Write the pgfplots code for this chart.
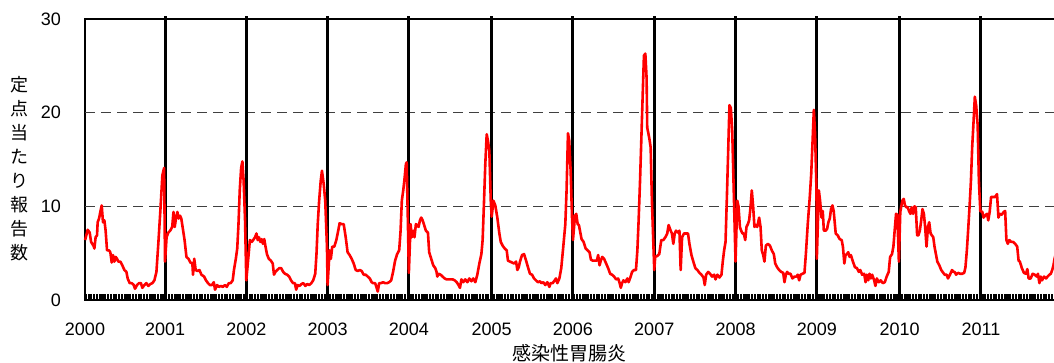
\documentclass[border=0pt]{standalone}
\usepackage{fontspec}
\setmainfont{Liberation Sans}
\newfontfamily\jp{Noto Sans CJK JP}
\usepackage{pgfplots}
\pgfplotsset{compat=1.18}
\begin{document}
\begin{tikzpicture}
\useasboundingbox (-42.5pt,-31.5pt) rectangle (484.5pt,150pt);
\begin{axis}[
  at={(0,0)}, anchor=south west,
  scale only axis, width=488.6pt, height=140.5pt,
  xmin=0.8, xmax=626, ymin=0, ymax=30,
  clip=false,
  axis line style={line width=0.8pt, black},
  xtick={0.8,52,104,156,208,261,313,365,417,469,522,574},
  xticklabels={2000,2001,2002,2003,2004,2005,2006,2007,2008,2009,2010,2011},
  minor xtick={1,2,...,625},
  ytick={0,10,20,30},
  extra y ticks={10,20}, extra y tick labels={},
  extra y tick style={ymajorgrids=true, major grid style={dash pattern=on 5pt off 3pt, line width=0.5pt, black!75}},
  tick pos=left, tick align=inside,
  major tick length=0pt,
  minor tick length=3pt,
  every minor tick/.style={line width=0.6pt, black},
  tick label style={font=\fontsize{9}{10}\selectfont},
  yticklabel style={anchor=east, xshift=-8.5pt},
  xticklabel style={anchor=north, yshift=-8pt},
  /pgf/number format/assume math mode=true,
]
\pgfplotsinvokeforeach{52,104,156,208,261,313,365,417,469,522,574}{
  \draw[line width=1.5pt, black] (axis cs:#1,0) -- (axis cs:#1,30.35);
}
\addplot[red, line width=1.3pt, line join=round, no marks] coordinates {
(0.9,6.4) (2.5,7.5) (3.8,7.2) (4.7,6.2) (6.2,5.8) (6.8,5.5) (7.6,6.7) (8.5,6.9) (8.9,8.3) (9.8,8.7) (10.6,9.4) (11.5,10.1) (12.3,8.3) (13.2,8.5) (14.0,7.4) (14.9,5.3) (16.2,5.3) (17.0,5.1) (17.9,4.0) (18.7,4.8) (19.6,4.1) (20.4,4.6) (21.3,4.4) (22.1,4.1) (23.4,4.1) (24.7,3.7) (26.0,3.2) (27.3,3.0) (28.1,2.3) (29.4,1.8) (30.7,1.8) (32.0,1.6) (32.8,1.2) (34.1,1.6) (35.4,1.8) (36.6,1.8) (37.5,1.3) (38.8,1.6) (40.1,1.8) (41.3,1.5) (42.6,1.7) (43.9,1.8) (45.2,2.1) (46.5,3.0) (47.7,6.0) (49.0,9.5) (50.3,13.3) (51.4,14.1) (52,4.1)
(53.0,6.7) (54.1,7.2) (55.3,7.4) (56.6,7.8) (57.4,9.4) (58.2,7.8) (59.1,8.8) (59.9,9.4) (60.7,8.7) (61.6,9.0) (62.4,8.7) (63.6,7.4) (64.5,6.4) (65.7,4.6) (67.0,4.4) (68.2,4.0) (69.5,3.9) (69.9,2.7) (70.7,4.4) (71.6,3.2) (72.8,3.1) (74.0,3.2) (75.3,2.7) (77.0,2.5) (78.2,2.1) (79.5,1.8) (80.7,1.6) (82.0,1.6) (83.2,1.9) (84.0,1.1) (85.3,1.6) (86.5,1.4) (87.8,1.5) (89.0,1.4) (90.3,1.6) (91.5,1.4) (92.8,1.8) (94.0,1.8) (95.3,2.1) (96.1,3.2) (97.3,4.4) (98.2,5.5) (99.0,8.1) (99.8,11.7) (100.7,14.1) (101.5,14.8) (102.3,12.7) (103.2,8.5) (104,2.1)
(106.3,6.4) (107.5,6.2) (108.8,6.5) (109.6,6.7) (110.5,7.1) (111.3,6.4) (112.1,6.7) (113.0,6.2) (113.8,6.5) (114.6,6.0) (115.5,6.5) (116.3,5.7) (117.2,4.9) (118.4,4.4) (119.7,4.2) (120.9,3.9) (121.7,2.7) (122.6,3.0) (123.8,3.2) (125.1,3.4) (126.3,3.4) (127.6,3.0) (128.8,2.8) (130.1,2.7) (131.4,2.5) (132.6,2.1) (133.9,1.8) (135.1,1.8) (135.9,1.1) (136.8,1.6) (138.0,1.5) (139.3,1.7) (140.5,1.8) (141.8,1.5) (143.0,1.7) (144.3,1.6) (145.6,1.8) (146.8,2.1) (148.1,2.8) (148.9,4.9) (149.7,8.1) (150.6,10.6) (151.6,12.7) (152.4,13.8) (153.5,12.4) (154.5,10.6) (155.6,5.7) (156,1.6)
(157.3,5.3) (158.1,4.4) (159.0,5.7) (160.3,5.7) (161.6,6.4) (162.8,7.4) (163.7,8.2) (165.0,8.1) (166.3,8.1) (167.6,6.7) (168.8,5.1) (170.1,4.8) (171.4,4.4) (172.7,3.9) (174.0,3.2) (175.3,3.1) (176.5,3.2) (177.8,3.1) (179.1,2.7) (180.4,2.7) (181.7,2.5) (183.0,2.3) (184.2,1.9) (185.1,1.8) (186.4,1.8) (187.2,1.4) (188.1,0.9) (189.0,1.8) (190.2,1.8) (191.5,1.9) (192.8,1.8) (194.1,1.8) (195.4,1.9) (196.7,2.1) (197.9,3.0) (199.2,4.2) (200.5,4.9) (201.8,5.3) (202.7,7.4) (203.5,10.6) (204.4,11.7) (205.2,12.9) (206.1,14.5) (206.6,14.7) (207.3,9.0) (208,2.9)
(209.1,8.1) (209.9,6.7) (210.8,7.4) (211.6,6.7) (212.5,8.1) (213.3,8.0) (214.2,7.8) (215.1,8.5) (215.9,8.8) (216.8,8.5) (217.6,8.1) (218.9,7.4) (220.2,7.2) (221.0,5.1) (222.3,4.4) (223.6,3.7) (224.9,3.4) (225.7,3.0) (226.2,2.5) (227.0,2.8) (228.3,2.7) (229.6,2.5) (230.9,2.3) (232.1,2.2) (233.4,2.2) (234.7,2.2) (236.0,2.2) (237.3,2.1) (238.6,1.9) (239.8,1.6) (240.7,1.3) (241.6,2.2) (242.8,1.9) (244.1,2.2) (245.4,1.9) (246.7,2.3) (248.0,2.0) (249.2,2.3) (250.5,1.9) (251.8,2.7) (253.1,3.9) (254.4,4.9) (255.2,6.4) (256.1,10.6) (256.9,14.5) (257.8,17.7) (258.6,17.0) (259.5,15.9) (260.4,10.6) (261,8.9)
(262.1,10.6) (263.3,10.1) (264.6,8.8) (265.9,7.1) (266.8,6.2) (268.0,5.8) (269.3,5.5) (270.6,5.3) (271.4,4.2) (272.7,4.1) (274.0,4.0) (275.3,3.9) (276.6,4.1) (277.4,3.2) (278.3,3.5) (279.1,4.1) (280.4,4.8) (281.7,4.9) (283.0,4.2) (284.2,3.5) (285.5,2.8) (286.8,2.7) (288.1,2.3) (289.3,2.1) (290.6,1.9) (291.9,2.0) (292.8,1.8) (294.0,1.9) (295.3,1.6) (296.6,1.9) (297.9,1.4) (298.7,1.8) (300.0,1.8) (301.3,2.1) (302.1,2.3) (303.0,1.8) (304.3,2.3) (305.5,3.4) (306.8,5.7) (308.1,8.1) (308.9,11.7) (309.8,17.8) (310.6,17.0) (311.5,13.8) (312.4,8.8) (313,6.4)
(314.3,9.0) (315.1,9.2) (316.0,8.1) (316.8,8.0) (317.7,7.2) (318.5,6.5) (319.8,6.2) (321.1,5.5) (322.3,5.3) (323.6,5.1) (324.5,4.3) (325.7,4.2) (327.0,4.2) (328.3,4.2) (329.1,4.8) (330.0,3.7) (330.8,4.2) (331.7,4.6) (332.9,4.4) (334.2,3.9) (335.5,3.4) (336.8,2.8) (338.0,2.7) (339.3,2.5) (340.6,2.2) (341.9,2.3) (342.7,1.9) (343.6,1.3) (344.4,1.8) (345.3,2.1) (346.5,1.9) (347.8,2.3) (348.6,1.9) (349.9,2.5) (350.8,3.0) (352.0,3.2) (353.3,3.2) (354.2,5.3) (355.0,8.5) (355.9,12.7) (356.7,17.0) (357.6,21.9) (358.4,26.1) (359.3,26.3) (360.1,23.7) (360.5,18.4) (361.8,17.3) (362.7,16.3) (363.5,10.6) (365,3.2)
(365.6,4.6) (366.9,4.7) (368.2,4.9) (369.5,6.4) (370.8,6.4) (372.1,6.7) (373.3,7.1) (374.2,8.0) (375.5,7.4) (376.3,7.1) (377.2,6.0) (378.1,7.1) (378.9,7.4) (380.2,7.2) (381.1,7.4) (381.9,3.2) (382.8,6.7) (384.0,7.1) (385.3,7.1) (386.6,7.1) (387.5,6.0) (388.8,4.8) (390.0,4.1) (391.3,3.4) (392.6,3.2) (393.9,2.9) (395.2,2.7) (396.5,2.4) (397.3,1.6) (398.2,2.7) (399.5,3.0) (400.7,2.8) (402.0,2.5) (403.3,2.7) (404.2,2.2) (405.4,2.7) (406.7,2.4) (408.0,2.7) (408.9,4.2) (409.7,5.3) (410.6,6.2) (411.4,10.6) (412.3,15.9) (413.1,20.8) (414.0,20.5) (414.9,18.0) (415.7,12.7) (417,4.1)
(418.1,10.6) (418.9,10.0) (419.8,7.8) (420.6,7.4) (421.5,7.1) (422.3,7.1) (423.2,6.4) (424.0,7.8) (424.9,8.1) (425.7,8.5) (426.6,9.9) (427.4,11.7) (428.3,9.9) (429.1,7.8) (430.0,8.0) (430.9,7.8) (432.1,8.8) (433.0,7.8) (433.8,5.3) (434.7,4.8) (435.5,4.1) (436.4,5.8) (437.7,6.0) (439.0,5.8) (440.2,5.3) (441.5,4.9) (442.4,3.9) (443.6,3.5) (444.9,3.2) (446.2,3.0) (447.5,2.9) (448.3,1.9) (449.2,2.7) (450.0,3.0) (450.9,2.8) (452.2,2.8) (453.4,2.3) (454.7,2.5) (456.0,2.5) (456.8,2.7) (457.7,2.1) (458.6,2.7) (459.8,2.8) (461.1,2.9) (462.0,4.9) (463.2,8.1) (464.5,11.0) (465.4,13.4) (466.2,16.6) (467.1,20.3) (467.9,17.7) (468.8,11.7) (469,4.4)
(470.3,11.7) (471.1,10.6) (472.0,8.8) (472.8,9.5) (473.5,7.4) (474.7,7.4) (475.6,7.6) (476.4,8.3) (477.3,8.7) (478.1,9.7) (479.0,10.1) (479.8,9.5) (481.1,7.1) (482.4,6.9) (483.6,6.5) (484.9,6.4) (485.7,5.7) (486.6,3.9) (487.4,4.8) (488.3,4.9) (489.1,5.1) (490.0,4.6) (490.8,4.8) (492.1,4.1) (493.4,3.5) (494.7,3.4) (495.9,3.0) (496.8,3.2) (498.0,2.7) (499.3,2.8) (500.2,1.9) (501.0,2.7) (501.9,2.1) (502.7,2.8) (503.6,2.3) (504.4,2.7) (505.7,2.1) (506.5,1.5) (507.4,2.3) (508.6,1.9) (509.9,2.1) (511.2,1.8) (512.5,1.9) (513.7,2.5) (515.0,3.0) (515.9,4.6) (517.1,4.9) (518.0,5.7) (518.8,7.4) (519.7,9.2) (520.5,9.1) (521.5,4.1)
(522.4,9.4) (523.7,10.6) (524.6,10.8) (525.4,10.1) (526.3,9.9) (527.2,9.9) (528.0,9.5) (528.9,9.2) (529.7,9.9) (530.6,9.2) (531.5,10.0) (532.3,9.9) (533.2,6.9) (534.0,6.9) (534.9,7.4) (535.8,8.5) (536.6,9.7) (537.5,9.2) (538.3,7.8) (539.2,5.7) (540.1,7.8) (540.9,8.3) (541.8,7.1) (542.6,6.9) (543.5,6.7) (544.3,5.7) (545.2,4.9) (546.1,4.1) (547.4,3.7) (548.6,3.2) (549.9,2.9) (550.8,2.7) (552.1,2.7) (552.9,2.3) (554.2,2.7) (555.5,3.2) (556.4,3.0) (557.2,3.0) (558.1,2.7) (559.4,2.9) (560.7,2.8) (562.0,2.8) (563.3,2.9) (564.1,3.5) (565.0,5.3) (565.8,7.4) (566.7,9.9) (567.6,12.7) (568.4,16.3) (569.3,19.1) (570.1,21.7) (571.0,20.7) (571.9,18.7) (572.7,12.7) (573.6,9.5)
(574.9,9.4) (575.7,8.8) (576.6,9.0) (577.9,9.2) (578.7,8.5) (579.6,9.4) (580.5,11.0) (581.7,11.0) (583.0,11.0) (584.3,11.3) (585.2,8.8) (586.0,9.2) (587.3,9.1) (588.6,9.4) (589.5,9.5) (590.3,6.4) (591.2,6.0) (592.1,6.4) (593.3,6.2) (594.6,6.2) (595.9,6.0) (597.2,5.7) (598.1,4.2) (598.9,4.1) (600.2,3.4) (601.5,2.9) (602.8,2.8) (603.7,3.3) (604.5,2.3) (605.8,2.3) (607.1,2.8) (608.4,2.7) (609.7,2.5) (610.5,2.8) (611.4,1.8) (612.3,2.5) (613.1,2.1) (614.4,2.5) (615.7,2.3) (616.6,2.5) (617.8,2.7) (618.7,2.8) (619.6,3.2) (620.4,3.7) (621.1,4.4) (622.0,5.0)
};
\end{axis}
\node[font=\jp\fontsize{9}{12}\selectfont, align=center, inner sep=0pt] at (-32.5pt,65.5pt) {定\\点\\当\\た\\り\\報\\告\\数};
\node[font=\jp\fontsize{9.5}{11}\selectfont, inner sep=0pt] at (242pt,-26.5pt) {感染性胃腸炎};
\end{tikzpicture}
\end{document}
